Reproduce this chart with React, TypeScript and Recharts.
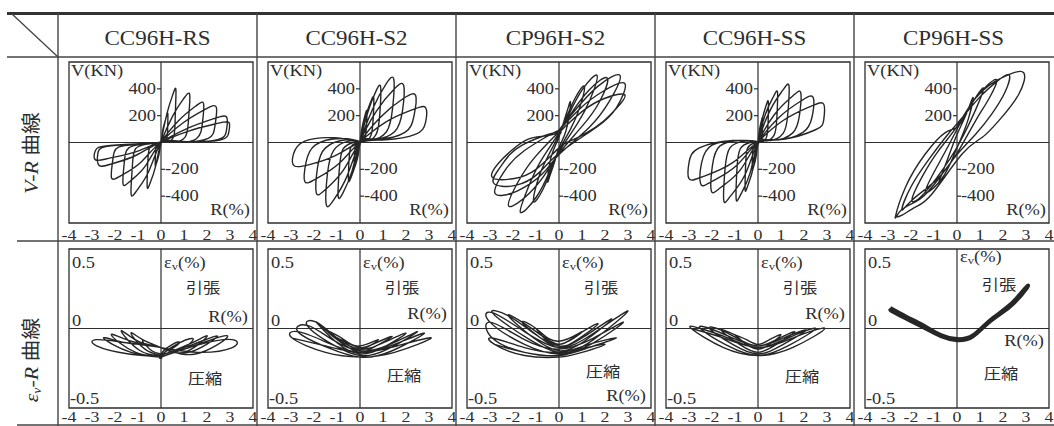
import React from "react";
import { LineChart, Line, XAxis, YAxis, ReferenceLine, ReferenceArea } from "recharts";

type Pt = [number, number];

const specimens = ["CC96H-RS", "CC96H-S2", "CP96H-S2", "CC96H-SS", "CP96H-SS"];
const rTicks = [-4, -3, -2, -1, 0, 1, 2, 3, 4];
const vTicks = [400, 200, -200, -400];

// V-R loops, one array per cycle, [R(%), V(kN)]
const rsVR: Pt[][] = [
  [[0,0],[0.1,110],[0.24,195],[0.3,210],[0.29,110],[0.25,25],[0.1,5],[0,0],[-0.09,-90],[-0.2,-155],[-0.25,-170],[-0.24,-85],[-0.21,-20],[-0.1,-4],[0,0]],
  [[0,0],[0.25,210],[0.52,360],[0.65,390],[0.62,200],[0.55,45],[0.25,8],[0,0],[-0.24,-180],[-0.48,-305],[-0.6,-330],[-0.58,-165],[-0.5,-40],[-0.24,-8],[0,0]],
  [[0,0],[0.5,195],[1.0,330],[1.25,355],[1.2,180],[1.05,40],[0.5,8],[0,0],[-0.52,-210],[-1.04,-355],[-1.3,-385],[-1.25,-190],[-1.1,-45],[-0.5,-10],[0,0]],
  [[0,0],[0.75,160],[1.5,270],[1.85,290],[1.8,145],[1.55,30],[0.75,6],[0,0],[-0.66,-170],[-1.32,-285],[-1.65,-310],[-1.6,-155],[-1.4,-40],[-0.66,-10],[0,0]],
  [[0,0],[0.95,145],[1.9,245],[2.4,265],[2.35,130],[2.05,30],[0.95,8],[0,0],[-0.86,-145],[-1.72,-245],[-2.15,-265],[-2.1,-135],[-1.85,-35],[-0.86,-12],[0,0]],
  [[0,0],[1.15,105],[2.3,178],[2.85,190],[2.85,95],[2.5,22],[1.15,6],[0,0],[-1.08,-95],[-2.16,-160],[-2.7,-170],[-2.75,-85],[-2.4,-30],[-1.08,-12],[0,0]],
  [[0,0],[1.2,85],[2.4,140],[2.95,150],[2.95,80],[2.6,20],[1.2,5],[0,0],[-1.1,-70],[-2.2,-115],[-2.85,-130],[-2.85,-60],[-2.4,-25],[-1.1,-10],[0,0]],
];

const s2VR: Pt[][] = [
  [[0,0],[0.1,120],[0.23,210],[0.3,230],[0.28,120],[0.22,35],[0.1,10],[0,0],[-0.08,-95],[-0.19,-165],[-0.25,-180],[-0.24,-90],[-0.19,-25],[-0.08,-5],[0,0]],
  [[0,0],[0.22,180],[0.47,305],[0.6,330],[0.57,170],[0.47,50],[0.2,12],[0,0],[-0.18,-150],[-0.39,-260],[-0.5,-280],[-0.48,-140],[-0.4,-35],[-0.18,-5],[0,0]],
  [[0,0],[0.33,220],[0.7,385],[0.9,410],[0.86,210],[0.7,60],[0.3,15],[0,0],[-0.35,-215],[-0.74,-375],[-0.95,-400],[-0.9,-200],[-0.74,-50],[-0.3,0],[0,0]],
  [[0,0],[0.55,250],[1.15,440],[1.47,470],[1.42,260],[1.15,80],[0.5,25],[0,0],[-0.55,-245],[-1.15,-430],[-1.47,-460],[-1.42,-240],[-1.15,-60],[-0.5,10],[0,0]],
  [[0,0],[0.7,230],[1.5,400],[1.9,425],[1.85,240],[1.5,80],[0.65,25],[0,0],[-0.7,-200],[-1.5,-350],[-1.9,-375],[-1.85,-190],[-1.5,-40],[-0.6,20],[0,0]],
  [[0,0],[0.9,190],[1.9,330],[2.42,350],[2.35,200],[1.95,75],[0.85,25],[0,0],[-0.9,-155],[-1.9,-270],[-2.4,-290],[-2.35,-150],[-1.95,-20],[-0.85,30],[0,0]],
  [[0,0],[1.1,150],[2.3,245],[2.85,260],[2.85,150],[2.4,60],[1.1,20],[0,0],[-1.1,-100],[-2.2,-165],[-2.85,-175],[-2.9,-90],[-2.4,10],[-1.1,35],[0,0]],
];

const cpS2VR: Pt[][] = [
  [[0,40],[0.2,150],[0.4,260],[0.5,300],[0.42,180],[0.25,60],[0,-40],[-0.2,-150],[-0.4,-250],[-0.5,-290],[-0.42,-170],[-0.25,-60],[0,40]],
  [[0,60],[0.3,180],[0.7,330],[1.1,420],[0.9,260],[0.5,100],[0,-60],[-0.3,-190],[-0.7,-350],[-1.1,-440],[-0.9,-270],[-0.5,-110],[0,60]],
  [[0,70],[0.4,200],[1.0,390],[1.65,500],[1.35,320],[0.8,140],[0,-70],[-0.4,-210],[-1.0,-410],[-1.68,-520],[-1.35,-340],[-0.8,-140],[0,70]],
  [[0,80],[0.5,210],[1.3,390],[2.1,480],[1.75,300],[1.0,120],[0,-80],[-0.5,-210],[-1.3,-380],[-2.18,-475],[-1.8,-300],[-1.0,-100],[0,80]],
  [[0,90],[0.7,240],[1.7,420],[2.65,500],[2.2,310],[1.3,110],[0,-90],[-0.7,-230],[-1.8,-360],[-2.78,-380],[-2.4,-220],[-1.5,-60],[0,90]],
  [[0,80],[0.9,250],[1.9,380],[2.86,440],[2.5,260],[1.6,110],[0,-80],[-0.9,-230],[-1.9,-320],[-2.85,-300],[-2.5,-170],[-1.6,-20],[0,80]],
  [[0,70],[1.0,230],[2.0,330],[2.86,355],[2.5,255],[1.93,158],[1.21,73],[0.5,12],[0,-40],[-1.0,-200],[-2.0,-270],[-2.9,-260],[-2.65,-158],[-2.08,-61],[-1.36,24],[-0.64,48],[0,70]],
];

const ssVR: Pt[][] = [
  [[0,0],[0.07,100],[0.16,170],[0.2,180],[0.19,90],[0.16,25],[0.07,5],[0,0],[-0.09,-110],[-0.2,-185],[-0.25,-200],[-0.24,-100],[-0.2,-25],[-0.09,-5],[0,0]],
  [[0,0],[0.17,165],[0.36,280],[0.45,300],[0.44,150],[0.37,40],[0.17,8],[0,0],[-0.21,-190],[-0.45,-325],[-0.56,-350],[-0.54,-175],[-0.46,-45],[-0.2,-5],[0,0]],
  [[0,0],[0.31,205],[0.68,345],[0.85,370],[0.82,185],[0.7,55],[0.32,12],[0,0],[-0.35,-230],[-0.76,-390],[-0.95,-420],[-0.92,-210],[-0.78,-50],[-0.35,0],[0,0]],
  [[0,0],[0.5,230],[1.08,390],[1.35,420],[1.3,220],[1.1,70],[0.5,15],[0,0],[-0.55,-235],[-1.2,-400],[-1.49,-430],[-1.44,-210],[-1.22,-40],[-0.55,10],[0,0]],
  [[0,0],[0.7,205],[1.5,345],[1.86,370],[1.8,200],[1.5,70],[0.7,18],[0,0],[-0.75,-200],[-1.62,-335],[-2.03,-360],[-1.98,-170],[-1.65,-25],[-0.75,15],[0,0]],
  [[0,0],[0.9,185],[1.92,315],[2.4,335],[2.35,190],[1.95,75],[0.9,20],[0,0],[-0.92,-170],[-2.0,-290],[-2.49,-310],[-2.45,-150],[-2.0,-20],[-0.9,15],[0,0]],
  [[0,0],[1.06,160],[2.3,270],[2.86,285],[2.86,170],[2.5,95],[1.1,25],[0,0],[-1.1,-150],[-2.4,-255],[-3.0,-270],[-3.0,-150],[-2.55,-40],[-1.1,15],[0,0]],
];

const cpSSVR: Pt[][] = [
  [[-0.8,-300],[-0.4,-120],[0,60],[0.4,210],[0.7,335],[0.5,180],[0.1,0],[-0.3,-160],[-0.8,-300]],
  [[-1.38,-370],[-0.9,-190],[-0.3,0],[0.3,190],[1.12,405],[0.85,260],[0.3,60],[-0.3,-120],[-1.38,-370]],
  [[-1.96,-430],[-1.5,-250],[-0.8,-60],[0,120],[0.8,330],[1.7,470],[1.4,330],[0.8,160],[0,-80],[-0.9,-280],[-1.96,-430]],
  [[-2.4,-500],[-2.0,-330],[-1.2,-120],[-0.4,60],[0.3,200],[1.0,340],[1.7,450],[2.26,505],[2.1,380],[1.5,210],[0.8,60],[0,-90],[-0.8,-270],[-1.6,-420],[-2.4,-500]],
  [[-2.68,-555],[-2.24,-333],[-1.38,-86],[-0.51,74],[0.07,124],[0.51,259],[1.09,383],[1.67,457],[2.25,506],[2.9,520],[2.68,358],[1.81,161],[1.09,37],[0.22,-86],[-1.08,-382],[-1.81,-481],[-2.39,-542],[-2.68,-555]],
];

// εv-R loops, [R(%), εv(%)]
const rsEV: Pt[][] = [
  [[0,-0.16],[-0.4,-0.14],[-0.8,-0.08],[-0.5,-0.09],[0,-0.12],[0.4,-0.13],[0.8,-0.09],[0.5,-0.1],[0,-0.16]],
  [[0,-0.17],[-0.7,-0.13],[-1.3,-0.03],[-0.8,-0.07],[0,-0.12],[0.7,-0.14],[1.4,-0.07],[0.8,-0.09],[0,-0.17]],
  [[0,-0.17],[-0.9,-0.14],[-1.73,-0.015],[-1.0,-0.08],[0,-0.12],[1.0,-0.15],[2.0,-0.05],[1.2,-0.1],[0,-0.17]],
  [[0,-0.17],[-1.1,-0.15],[-2.16,-0.04],[-1.3,-0.08],[0,-0.12],[1.2,-0.15],[2.45,-0.05],[1.4,-0.1],[0,-0.17]],
  [[0,-0.18],[-1.3,-0.15],[-2.5,-0.06],[-1.5,-0.09],[0,-0.12],[1.5,-0.16],[2.9,-0.05],[1.6,-0.1],[0,-0.18]],
  [[0,-0.18],[-1.4,-0.16],[-2.8,-0.11],[-2.8,-0.07],[-1.5,-0.09],[0,-0.12],[1.6,-0.15],[3.1,-0.12],[3.1,-0.07],[1.7,-0.1],[0,-0.18]],
];

const s2EV: Pt[][] = [
  [[-0.8,-0.06],[0,-0.13],[0.8,-0.07],[0,-0.11],[-0.8,-0.06]],
  [[-1.4,-0.02],[-0.7,-0.1],[0,-0.15],[0.7,-0.11],[1.4,-0.05],[0.7,-0.09],[0,-0.12],[-0.7,-0.08],[-1.4,-0.02]],
  [[-1.9,0.04],[-1.0,-0.09],[0,-0.16],[1.0,-0.12],[2.0,-0.03],[1.0,-0.09],[0,-0.13],[-1.0,-0.06],[-1.9,0.04]],
  [[-2.3,0.02],[-1.2,-0.1],[0,-0.17],[1.2,-0.13],[2.5,-0.02],[1.3,-0.1],[0,-0.14],[-1.2,-0.07],[-2.3,0.02]],
  [[-2.7,-0.02],[-1.4,-0.12],[0,-0.18],[1.4,-0.14],[2.8,-0.03],[1.5,-0.1],[0,-0.15],[-1.4,-0.09],[-2.7,-0.02]],
  [[-2.95,-0.06],[-1.5,-0.15],[0,-0.18],[1.5,-0.15],[3.1,-0.06],[1.6,-0.11],[0,-0.15],[-1.5,-0.11],[-2.95,-0.06]],
];

const cpS2EV: Pt[][] = [
  [[-1.0,0.0],[0,-0.1],[1.0,-0.02],[0,-0.08],[-1.0,0.0]],
  [[-1.6,0.04],[-0.8,-0.06],[0,-0.12],[0.8,-0.07],[1.7,0.03],[0.8,-0.04],[0,-0.1],[-0.8,-0.04],[-1.6,0.04]],
  [[-2.2,0.08],[-1.1,-0.06],[0,-0.14],[1.1,-0.08],[2.3,0.06],[1.1,-0.05],[0,-0.11],[-1.1,-0.03],[-2.2,0.08]],
  [[-2.9,0.1],[-1.5,-0.05],[0,-0.15],[1.5,-0.07],[3.0,0.11],[1.5,-0.03],[0,-0.12],[-1.5,-0.02],[-2.9,0.1]],
  [[-3.0,0.04],[-1.5,-0.1],[0,-0.16],[1.5,-0.09],[2.8,0.04],[1.5,-0.06],[0,-0.13],[-1.5,-0.07],[-3.0,0.04]],
  [[-2.9,-0.06],[-1.5,-0.15],[0,-0.17],[1.3,-0.12],[2.5,-0.06],[1.3,-0.1],[0,-0.15],[-1.5,-0.12],[-2.9,-0.06]],
  [[-2.8,-0.1],[-1.5,-0.17],[0,-0.18],[1.0,-0.15],[2.0,-0.1],[1.0,-0.13],[0,-0.17],[-1.5,-0.15],[-2.8,-0.1]],
];

const ssEV: Pt[][] = [
  [[-1.0,-0.04],[-0.5,-0.1],[0,-0.13],[0.5,-0.1],[1.0,-0.04],[0.5,-0.07],[0,-0.1],[-0.5,-0.07],[-1.0,-0.04]],
  [[-1.6,-0.01],[-0.8,-0.1],[0,-0.15],[0.8,-0.1],[1.6,-0.02],[0.8,-0.07],[0,-0.11],[-0.8,-0.07],[-1.6,-0.01]],
  [[-2.1,0.0],[-1.1,-0.1],[0,-0.16],[1.1,-0.1],[2.1,-0.01],[1.1,-0.06],[0,-0.11],[-1.1,-0.06],[-2.1,0.0]],
  [[-2.5,0.0],[-1.3,-0.11],[0,-0.17],[1.3,-0.11],[2.5,0.0],[1.3,-0.06],[0,-0.12],[-1.3,-0.06],[-2.5,0.0]],
  [[-2.9,0.0],[-1.5,-0.12],[0,-0.17],[1.5,-0.12],[2.9,0.0],[1.5,-0.06],[0,-0.12],[-1.5,-0.06],[-2.9,0.0]],
];

const cpSSEV: Pt[][] = [
  [[-2.9,0.13],[-2.2,0.075],[-1.45,0.02],[-0.7,-0.04],[0,-0.065],[0.7,-0.04],[1.45,0.055],[2.3,0.15],[3.0,0.26]],
  [[3.0,0.245],[2.3,0.135],[1.45,0.045],[0.7,-0.05],[0,-0.075],[-0.7,-0.05],[-1.45,0.005],[-2.2,0.06],[-2.9,0.115]],
  [[-2.4,0.09],[-1.45,0.01],[-0.7,-0.045],[0,-0.07],[0.7,-0.045],[1.45,0.05],[2.4,0.16]],
];

const vrLoops = [rsVR, s2VR, cpS2VR, ssVR, cpSSVR];
const evLoops = [rsEV, s2EV, cpS2EV, ssEV, cpSSEV];

// layout of the scanned table
const INK = "#2e2e2e";
const FONT = '"Liberation Serif", "Noto Sans CJK JP", serif';
const COL0 = 58;
const COLW = 199;
const INSET = 11;
const BOX_W = 184;
const PAD = 14;
const ROW1_TOP = 62;
const ROW1_H = 161;
const ROW2_TOP = 249;
const ROW2_H = 159;
const SX = 1.15;

const evRLabelY = [322, 319, 401, 319, 346];
const evPressY = [384, 381, 377, 382, 379];

function T({ x, y, size = 16, anchor = "start", children }: any) {
  return (
    <text
      transform={`translate(${x} ${y}) scale(${SX} 1)`}
      fontSize={size}
      fontFamily={FONT}
      textAnchor={anchor}
      fill={INK}
    >
      {children}
    </text>
  );
}

function Panel({ loops, left, top, h, yDomain, yTicks, curve, lineWidth, tickDy }: any) {
  const data = loops.flat().map(([r, v]: Pt) => ({ r, v }));
  const cx = PAD + BOX_W / 2;
  const yTick = (p: any) => {
    const v = p.payload.value;
    const up = v > 0;
    return (
      <g>
        <line x1={cx} x2={up ? cx - 4 : cx + 4} y1={p.y} y2={p.y} stroke={INK} strokeWidth={1.2} />
        <T x={up ? cx - 5 : cx + 4} y={p.y + 5} anchor={up ? "end" : "start"}>
          {v}
        </T>
      </g>
    );
  };
  return (
    <div style={{ position: "absolute", left: left - PAD, top: top - 1 }}>
      <LineChart
        width={BOX_W + 2 * PAD}
        height={h + 26}
        data={data}
        margin={{ top: 1, right: PAD, bottom: 0, left: PAD }}
      >
        <XAxis
          type="number"
          dataKey="r"
          domain={[-4, 4]}
          ticks={rTicks}
          interval={0}
          allowDataOverflow
          height={25}
          tickSize={0}
          tickMargin={0}
          axisLine={false}
          tickLine={false}
          tick={(p: any) => (
            <T x={p.x} y={p.y + tickDy} size={15.5} anchor="middle">
              {p.payload.value}
            </T>
          )}
        />
        <YAxis
          type="number"
          domain={yDomain}
          ticks={yTicks}
          interval={0}
          allowDataOverflow
          mirror
          width={30}
          axisLine={false}
          tickLine={false}
          tick={yTicks.length ? yTick : false}
        />
        <ReferenceArea x1={-4} x2={4} y1={yDomain[0]} y2={yDomain[1]} fill="none" stroke={INK} strokeWidth={1.3} />
        <ReferenceLine x={0} stroke={INK} strokeWidth={1.2} />
        <ReferenceLine y={0} stroke={INK} strokeWidth={1.2} />
        <Line
          type={curve}
          dataKey="v"
          stroke="#262626"
          strokeWidth={lineWidth}
          dot={false}
          isAnimationActive={false}
        />
      </LineChart>
    </div>
  );
}

export default function App() {
  const cols = specimens.map((_, i) => COL0 + COLW * i);
  return (
    <div style={{ position: "absolute", left: 0, top: 0, width: 1054, height: 426, background: "#fff", overflow: "hidden" }}>
      {vrLoops.map((loops, i) => (
        <Panel
          key={"vr" + i}
          loops={loops}
          left={cols[i] + INSET}
          top={ROW1_TOP}
          h={ROW1_H}
          yDomain={[-600, 600]}
          yTicks={vTicks}
          curve="natural"
          lineWidth={1.4}
          tickDy={17}
        />
      ))}
      {evLoops.map((loops, i) => (
        <Panel
          key={"ev" + i}
          loops={loops}
          left={cols[i] + INSET}
          top={ROW2_TOP}
          h={ROW2_H}
          yDomain={[-0.5, 0.5]}
          yTicks={[]}
          curve="natural"
          lineWidth={i === 4 ? 3.5 : 1.4}
          tickDy={14}
        />
      ))}
      <svg width={1054} height={426} style={{ position: "absolute", left: 0, top: 0, pointerEvents: "none" }}>
        <line x1={7} x2={1054} y1={13.5} y2={13.5} stroke="#333" strokeWidth={3} />
        <line x1={7} x2={1054} y1={57} y2={57} stroke="#444" strokeWidth={1.5} />
        <line x1={17} x2={1054} y1={241} y2={241} stroke="#444" strokeWidth={1.5} />
        <line x1={17} x2={1054} y1={425} y2={425} stroke="#444" strokeWidth={1.5} />
        <line x1={12} y1={14} x2={58} y2={57} stroke="#444" strokeWidth={1.3} />
        {cols.map((x) => (
          <line key={x} x1={x} x2={x} y1={13} y2={426} stroke="#444" strokeWidth={1.4} />
        ))}
        {specimens.map((s, i) => (
          <T key={s} x={cols[i] + COLW / 2} y={45} size={20} anchor="middle">
            {s}
          </T>
        ))}
        <g transform="translate(38 153) rotate(-90)">
          <text textAnchor="middle" fontSize={19} fontFamily={FONT} fill={INK} transform={`scale(${SX} 1)`}>
            <tspan fontStyle="italic">V-R</tspan>
            <tspan> 曲線</tspan>
          </text>
        </g>
        <g transform="translate(38 360) rotate(-90)">
          <text textAnchor="middle" fontSize={19} fontFamily={FONT} fill={INK} transform={`scale(${SX} 1)`}>
            <tspan fontStyle="italic">ε</tspan>
            <tspan fontStyle="italic" fontSize={12} dy={3}>v</tspan>
            <tspan fontStyle="italic" dy={-3}>-R</tspan>
            <tspan> 曲線</tspan>
          </text>
        </g>
        {cols.map((c, i) => {
          const boxL = c + INSET;
          const boxR = boxL + BOX_W;
          const cx = boxL + BOX_W / 2;
          return (
            <g key={"ann" + i}>
              <T x={boxL + 2} y={76}>V(KN)</T>
              <T x={boxR - 3} y={215} anchor="end">R(%)</T>
              <T x={boxL + 3} y={268}>0.5</T>
              <T x={boxL + 3} y={326}>0</T>
              <T x={boxL + 1} y={404}>-0.5</T>
              <T x={cx + 3} y={i === 4 ? 262 : 268}>
                <tspan>ε</tspan>
                <tspan fontSize={11} dy={2}>v</tspan>
                <tspan dy={-2}>(%)</tspan>
              </T>
              <T x={cx + 42} y={i === 4 ? 290 : 293} size={15} anchor="middle">引張</T>
              <T x={boxR - 5} y={evRLabelY[i]} anchor="end">R(%)</T>
              <T x={cx + 44} y={evPressY[i]} size={15} anchor="middle">圧縮</T>
            </g>
          );
        })}
      </svg>
    </div>
  );
}
